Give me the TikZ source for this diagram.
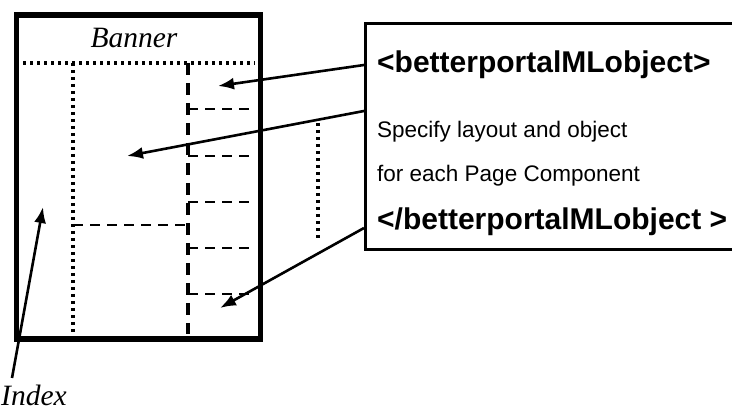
\documentclass[tikz,border=0pt]{standalone}
\usepackage{fontspec}
\setmainfont{Liberation Serif}
\setsansfont{Liberation Sans}
\usetikzlibrary{arrows.meta}

\begin{document}
\begin{tikzpicture}[x=1pt,y=-1pt,
  frame/.style={line width=5.5pt},
  dotline/.style={line width=3.4pt, dash pattern=on 3.4pt off 3.6pt},
  dashline/.style={line width=3.4pt, dash pattern=on 12pt off 8pt},
  thindash/.style={line width=2.4pt, dash pattern=on 10pt off 7pt},
  pointer/.style={line width=2.6pt, -{Latex[length=16pt,width=12pt]}},
  serifit/.style={font=\fontsize{29.5}{30}\selectfont\itshape, inner sep=0pt},
  tag/.style={font=\sffamily\bfseries\fontsize{30}{32}\selectfont, inner sep=0pt, anchor=base west},
  note/.style={font=\sffamily\fontsize{22.5}{24}\selectfont, inner sep=0pt, anchor=base west}]

\useasboundingbox[fill=white] (0,0) rectangle (732,414);

% page regions
\draw[dotline] (16,63) -- (255,63);
\draw[dotline] (73,63) -- (73,334);
\draw[dashline] (188,63) -- (188,334);
\foreach \y in {109,156,202,248,294} \draw[thindash] (188,\y) -- (255,\y);
\draw[thindash] (73,225) -- (188,225);
\node[draw, frame, inner sep=0pt, minimum width=244pt, minimum height=324pt, anchor=north west] (page) at (13.5,12.5) {};
\node[serifit, anchor=base] (banner) at (134,48) {Banner};

% free-standing dotted rule
\draw[dotline] (318,123) -- (318,240);

% specification box, open on the right
\node[draw, line width=3pt, inner sep=0pt, minimum width=390pt, minimum height=226pt, anchor=north west] (spec) at (364,22) {};
\node[tag] (open) at (377,73) {<betterportalMLobject>};
\node[note] (line1) at (377,138) {Specify layout and object};
\node[note] (line2) at (377,182) {for each Page Component};
\node[tag] (close) at (377,230) {</betterportalMLobject >};

% arrow ends
\coordinate (s1) at (364,65);
\coordinate (s2) at (364,111);
\coordinate (s3) at (364,228);
\coordinate (p1) at (218,86);
\coordinate (p2) at (127,156);
\coordinate (p3) at (220,308);
\coordinate (p4) at (43,207);
\coordinate (q4) at (12,378);

\draw[pointer] (s1) -- (p1);
\draw[pointer] (s2) -- (p2);
\draw[pointer] (s3) -- (p3);
\draw[pointer] (q4) -- (p4);

\node[serifit, anchor=base west] (index) at (1,406) {Index};
\end{tikzpicture}
\end{document}
